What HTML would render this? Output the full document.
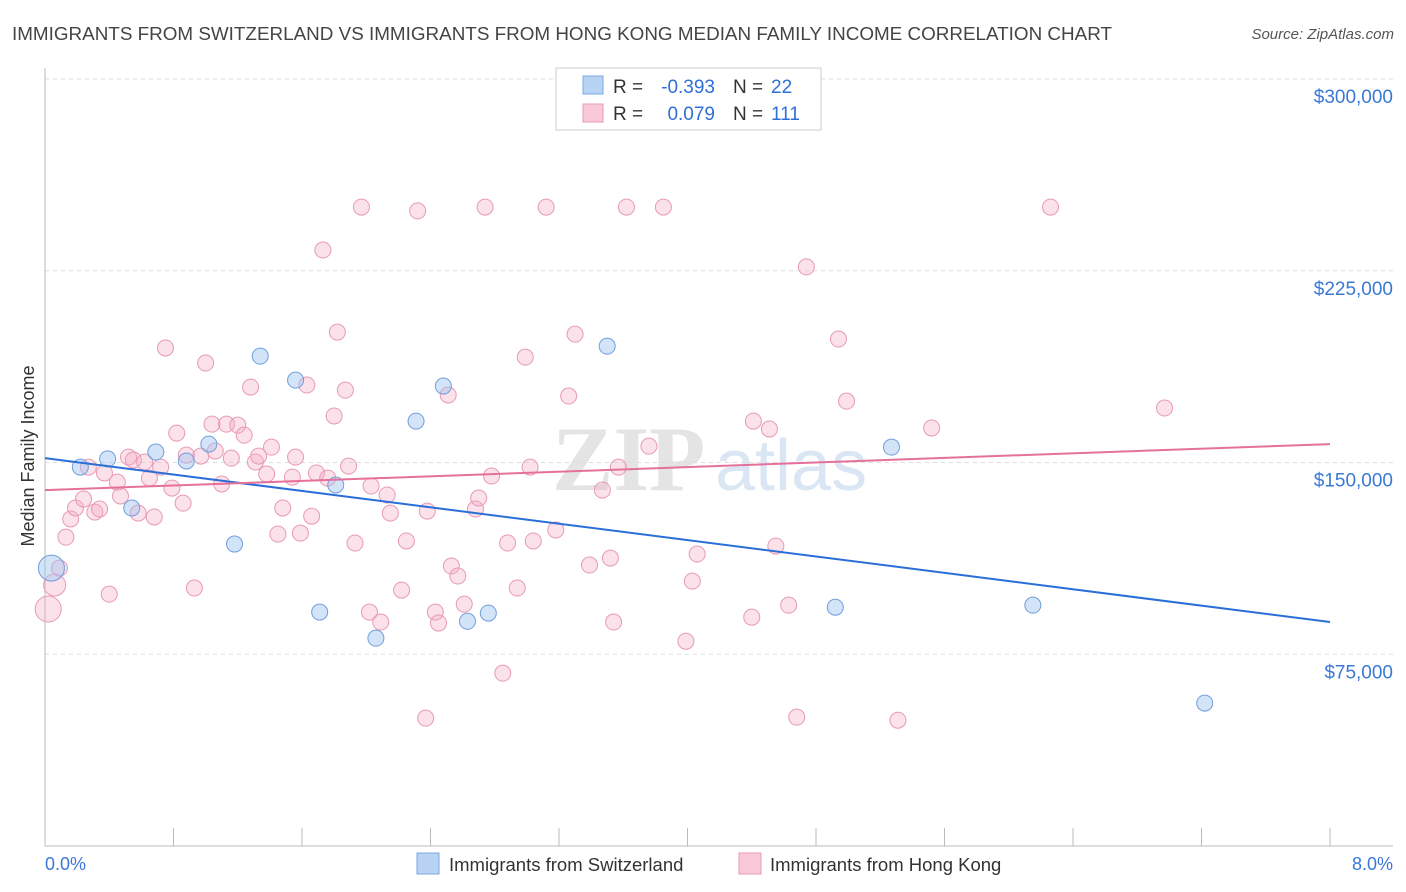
<!DOCTYPE html>
<html><head><meta charset="utf-8"><style>
body{margin:0;background:#fff;font-family:"Liberation Sans",sans-serif;}
svg{display:block}
</style></head><body>
<svg id="chart" width="1406" height="892" xmlns="http://www.w3.org/2000/svg">
<text x="12" y="40" font-size="18" fill="#444" textLength="1100" lengthAdjust="spacingAndGlyphs">IMMIGRANTS FROM SWITZERLAND VS IMMIGRANTS FROM HONG KONG MEDIAN FAMILY INCOME CORRELATION CHART</text>
<text x="1394" y="39" font-size="15" fill="#555" font-style="italic" text-anchor="end">Source: ZipAtlas.com</text>
<g>
<text x="552" y="490" font-size="92" fill="#e4e4e4" font-family="Liberation Serif,serif" font-weight="bold">ZIP</text>
<text x="715" y="490" font-size="72" fill="#dbe6f4">atlas</text>
</g>
<g id="grid"></g>
<g id="axes"></g>
<g id="marks"></g>
<text transform="translate(34,456) rotate(-90)" font-size="18" fill="#333" text-anchor="middle">Median Family Income</text>
<g>
<rect x="556" y="68" width="265" height="62" fill="#fff" stroke="#ccc"/>
<rect x="583" y="76" width="20" height="18" fill="#b9d3f5" stroke="#7aa9e0"/>
<rect x="583" y="104" width="20" height="18" fill="#f9c9d9" stroke="#e89ab5"/>
<text x="613" y="93" font-size="19" fill="#333">R =</text>
<text x="715" y="93" font-size="19" fill="#2f6fd6" text-anchor="end">-0.393</text>
<text x="733" y="93" font-size="19" fill="#333">N =</text>
<text x="771" y="93" font-size="19" fill="#2f6fd6">22</text>
<text x="613" y="120" font-size="19" fill="#333">R =</text>
<text x="715" y="120" font-size="19" fill="#2f6fd6" text-anchor="end">0.079</text>
<text x="733" y="120" font-size="19" fill="#333">N =</text>
<text x="771" y="120" font-size="19" fill="#2f6fd6">111</text>
</g>
<g>
<rect x="417" y="853" width="22" height="21" fill="#b9d3f5" stroke="#7aa9e0"/>
<text x="449" y="871" font-size="18.5" fill="#333">Immigrants from Switzerland</text>
<rect x="739" y="853" width="22" height="21" fill="#f9c9d9" stroke="#e89ab5"/>
<text x="770" y="871" font-size="18.5" fill="#333">Immigrants from Hong Kong</text>
</g>
</svg>
<script>
const yTicks=[75000,150000,225000,300000];
const yTickLabels=["$75,000","$150,000","$225,000","$300,000"];
const xTickLabels=["0.0%","8.0%"];
const swissX=[0.04,0.22,0.39,0.54,0.69,0.88,1.02,1.18,1.34,1.56,1.71,1.81,2.06,2.31,2.48,2.63,2.76,3.50,4.92,5.27,6.15,7.22];
const swissY=[108.7,148.2,151.4,132.2,154.1,150.6,157.2,118.1,191.6,182.2,91.5,141.2,81.3,166.2,179.9,87.9,91.1,195.5,93.4,156.0,94.2,55.9];
const swissR=[13,8,8,8,8,8,8,8,8,8,8,8,8,8,8,8,8,8,8,8,8,8];
const hkX=[0.02,0.06,0.09,0.13,0.16,0.19,0.24,0.27,0.31,0.34,0.37,0.40,0.45,0.47,0.52,0.55,0.58,0.62,0.65,0.68,0.72,0.75,0.79,0.82,0.86,0.88,0.93,0.97,1.00,1.04,1.06,1.10,1.13,1.16,1.20,1.24,1.28,1.31,1.33,1.38,1.41,1.45,1.48,1.54,1.56,1.59,1.63,1.66,1.69,1.73,1.76,1.80,1.82,1.87,1.89,1.93,1.97,2.02,2.03,2.09,2.13,2.15,2.22,2.25,2.32,2.37,2.38,2.43,2.45,2.51,2.53,2.57,2.61,2.68,2.70,2.74,2.78,2.85,2.88,2.94,2.99,3.02,3.04,3.12,3.18,3.26,3.30,3.39,3.47,3.52,3.54,3.57,3.62,3.76,3.85,3.99,4.03,4.06,4.40,4.41,4.51,4.55,4.63,4.68,4.74,4.94,4.99,5.31,5.52,6.26,6.97];
const hkY=[92.7,102.1,108.7,120.8,127.9,132.2,135.7,148.2,130.6,131.8,145.9,98.5,142.3,136.9,152.1,151.0,130.2,150.2,143.9,128.7,148.2,194.8,140.0,161.5,134.1,152.9,100.9,152.5,188.9,165.0,154.5,141.6,165.0,151.7,164.6,160.7,179.5,150.2,152.5,145.5,156.0,122.0,132.2,144.3,152.1,122.4,180.3,129.0,145.9,233.1,143.9,168.2,201.0,178.3,148.6,118.5,249.9,91.5,140.8,87.6,137.3,130.2,100.1,119.3,248.4,50.0,131.0,91.5,87.2,176.4,109.5,105.6,94.6,131.8,136.1,249.9,144.7,67.6,118.5,100.9,191.2,148.2,119.3,249.9,123.6,176.0,200.2,109.9,139.2,112.6,87.6,148.2,249.9,156.4,249.9,80.1,103.6,114.2,89.5,166.2,163.1,117.3,94.2,50.4,226.5,198.3,174.0,49.2,163.5,249.9,171.3];
const hkR=[13,11];
const swissTrend=[151.7,87.6];
const hkTrend=[139.2,157.2];
const trendX=[0,8];

const NS="http://www.w3.org/2000/svg";
const X0=45,X1=1330,YT=79,YB=846;
function xs(p){return X0+(p/8)*(X1-X0);}
function ys(v){return YB-(v/300000)*(YB-YT);}
function mk(tag,attrs,parent){const e=document.createElementNS(NS,tag);for(const k in attrs)e.setAttribute(k,attrs[k]);parent.appendChild(e);return e;}
const grid=document.getElementById('grid'),axes=document.getElementById('axes'),marks=document.getElementById('marks');
yTicks.forEach((t,i)=>{
 const l=mk('line',{x1:X0,x2:1393,y1:ys(t),y2:ys(t),stroke:'#ddd','stroke-dasharray':'4,4'},grid);
 
 
 const tx=mk('text',{x:1393,y:ys(t)+24,'font-size':19,fill:'#3a78d8','text-anchor':'end'},axes);
 tx.textContent=yTickLabels[i];
 
 
});
let a=mk('line',{x1:X0,x2:X0,y1:68,y2:YB,stroke:'#bbb'},axes);


a=mk('line',{x1:X0,x2:1393,y1:YB,y2:YB,stroke:'#bbb'},axes);


for(let i=0;i<=10;i++){
 const t=mk('line',{x1:xs(i*0.8),x2:xs(i*0.8),y1:828,y2:YB,stroke:'#bbb'},axes);
 
 
}
let xl=mk('text',{x:45,y:870,'font-size':18,fill:'#3a78d8'},axes);xl.textContent=xTickLabels[0];


xl=mk('text',{x:1393,y:870,'font-size':18,fill:'#3a78d8','text-anchor':'end'},axes);xl.textContent=xTickLabels[1];


hkX.forEach((x,i)=>{
 const c=mk('circle',{cx:xs(x),cy:ys(hkY[i]*1000),r:hkR[i]||8,fill:'rgba(244,170,195,0.35)',stroke:'#e89ab5','stroke-width':1},marks);
 
 
});
swissX.forEach((x,i)=>{
 const c=mk('circle',{cx:xs(x),cy:ys(swissY[i]*1000),r:swissR[i],fill:'rgba(160,195,240,0.45)',stroke:'#6f9fdc','stroke-width':1},marks);
 
 
});
let tl=mk('line',{x1:xs(trendX[0]),x2:xs(trendX[1]),y1:ys(swissTrend[0]*1000),y2:ys(swissTrend[1]*1000),stroke:'#2a6fd8','stroke-width':2},marks);


tl=mk('line',{x1:xs(trendX[0]),x2:xs(trendX[1]),y1:ys(hkTrend[0]*1000),y2:ys(hkTrend[1]*1000),stroke:'#e5709a','stroke-width':2},marks);


</script>
</body></html>
